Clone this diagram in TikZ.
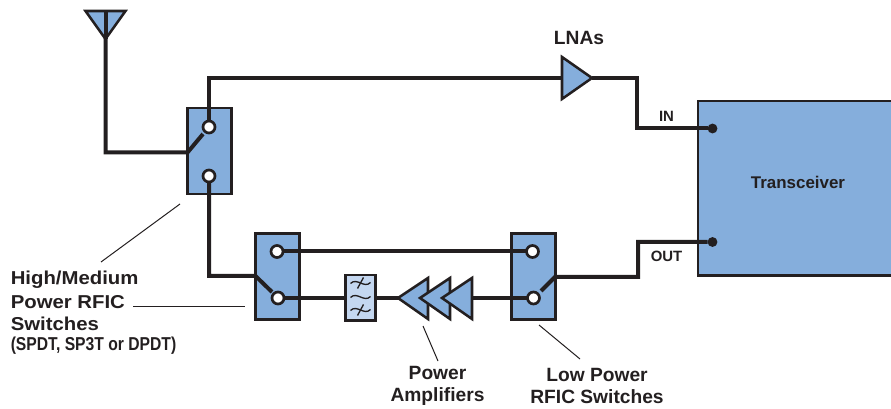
\documentclass[tikz,border=0pt]{standalone}
\usepackage{fontspec}
\setmainfont{Liberation Sans}
\newfontfamily\narrowfont[FakeStretch=0.84]{Liberation Sans}
\newfontfamily\widefont[FakeStretch=1.09]{Liberation Sans}
\definecolor{rfblue}{RGB}{133,174,220}
\definecolor{rflight}{RGB}{196,215,240}
\definecolor{rfink}{RGB}{35,31,32}
\begin{document}
\begin{tikzpicture}[x=0.75pt,y=-0.75pt,
  wire/.style={draw=rfink,line width=3pt,line join=miter},
  boxed/.style={draw=rfink,line width=2pt,fill=rfblue,inner sep=0pt,outer sep=0pt,anchor=north west},
  swbox/.style={boxed,minimum width=33pt,minimum height=64.5pt},
  term/.style={circle,draw=rfink,line width=2pt,fill=white,minimum size=9pt,inner sep=0pt,outer sep=0pt},
  dotpin/.style={circle,fill=rfink,minimum size=7.4pt,inner sep=0pt,outer sep=0pt},
  tri/.style={draw=rfink,line width=1.9pt,fill=rfblue,line join=miter},
  leader/.style={draw=rfink,line width=0.75pt},
  lab/.style={font=\fontsize{14.4pt}{16.5pt}\selectfont\bfseries,text=rfink,inner sep=0pt},
  leftlab/.style={font=\widefont\fontsize{14pt}{16pt}\selectfont\bfseries,text=rfink,inner sep=0pt,anchor=west},
  pin/.style={font=\fontsize{11.2pt}{13pt}\selectfont\bfseries,text=rfink,inner sep=0pt}]
\useasboundingbox (0,0) rectangle (891,409);
% boxes
\node[swbox] (sw1) at (187.5,108) {};
\node[swbox] (sw2) at (255.5,233.5) {};
\node[swbox] (sw3) at (511.5,233.5) {};
\node[boxed,minimum width=146pt,minimum height=131pt] (trx) at (698,101) {};
\node[font=\fontsize{12.7pt}{15pt}\selectfont\bfseries,text=rfink,inner sep=0pt] (trxlab) at (798,182) {Transceiver};
% coordinates
\coordinate (ant) at (105.5,39);
\coordinate (anttop) at (105.5,11);
\coordinate (antcorner) at (105.5,152.5);
\coordinate (arm1) at (187.5,152.5);
\coordinate (arm1e) at (203,134);
\coordinate (up1) at (209,78);
\coordinate (lnain) at (562,78);
\coordinate (lnaout) at (592,78);
\coordinate (c1) at (637,78);
\coordinate (c2) at (637,128.5);
\coordinate (d1) at (209,276);
\coordinate (arm2) at (255.5,276);
\coordinate (arm2e) at (272,292);
\coordinate (arm3) at (555,277);
\coordinate (arm3e) at (541,291);
\coordinate (e1) at (638,277);
\coordinate (e2) at (638,242);
\node[dotpin] (pinin) at (712.5,128.5) {};
\node[dotpin] (pinout) at (712.5,242) {};
\coordinate (t1a) at (209,127);
\coordinate (t1b) at (209,176);
\coordinate (t2a) at (277,251.5);
\coordinate (t2b) at (278,298);
\coordinate (t3a) at (532.5,251.5);
\coordinate (t3b) at (533.5,298);
\draw[wire] (anttop) -- (antcorner) -- (arm1) -- (arm1e);
\draw[wire] (t1a) -- (up1) -- (lnain);
\draw[wire] (lnaout) -- (c1) -- (c2) -- (pinin);
\draw[wire] (t1b) -- (d1) -- (arm2) -- (arm2e);
\draw[wire] (t2a) -- (t3a);
\draw[wire] (t2b) -- (t3b);
\draw[wire] (arm3e) -- (arm3) -- (e1) -- (e2) -- (pinout);
% terminals
\node[term] (n1a) at (t1a) {};
\node[term] (n1b) at (t1b) {};
\node[term] (n2a) at (t2a) {};
\node[term] (n2b) at (t2b) {};
\node[term] (n3a) at (t3a) {};
\node[term] (n3b) at (t3b) {};
% antenna
\draw[tri] (85.5,11) -- (125.5,11) -- (ant) -- cycle;
\draw[wire] (anttop) -- (ant);
% LNA
\draw[tri] (lnain|-0,57) -- (lnaout) -- (lnain|-0,99) -- cycle;
% PAs
\draw[tri] (428,278) -- (398,298) -- (428,319) -- cycle;
\draw[tri] (450,278) -- (420,298) -- (450,319) -- cycle;
\draw[tri] (472,278) -- (442,298) -- (472,319) -- cycle;
% filter
\node[boxed,fill=rflight,minimum width=22.5pt,minimum height=34pt] (flt) at (345.5,275) {};
\foreach \yy in {283,297,310}
  \draw[draw=rfink,line width=1pt] (350.5,\yy+0.5) .. controls (357,\yy-6) and (364,\yy+6) .. (370.5,\yy-0.5);
\foreach \yy in {283,310}
  \draw[draw=rfink,line width=1pt] (357.5,\yy+5.5) -- (363.5,\yy-5.5);
% labels
\node[lab] (lnas) at (579,38) {LNAs};
\node[pin] (inlab) at (666.5,116) {IN};
\node[pin] (outlab) at (666.5,256) {OUT};
\node[leftlab] (hm) at (10.5,280) {High/Medium};
\node[leftlab] (pr) at (10.5,302) {Power RFIC};
\node[leftlab] (sws) at (10.5,323.5) {Switches};
\node[anchor=west,inner sep=0pt,text=rfink,font=\narrowfont\fontsize{14pt}{16pt}\selectfont\bfseries] (spdt) at (10.5,346) {(SPDT, SP3T or DPDT)};
\node[lab,align=center] (pa) at (437.5,385.5) {Power\\Amplifiers};
\node[lab,align=center] (lp) at (597,385.5) {Low Power\\RFIC Switches};
% leaders
\draw[leader] (101,262) -- (180,204);
\draw[leader] (133,306) -- (245,306);
\draw[leader] (423,326) -- (438,361);
\draw[leader] (539,325) -- (580,359);
\end{tikzpicture}
\end{document}
